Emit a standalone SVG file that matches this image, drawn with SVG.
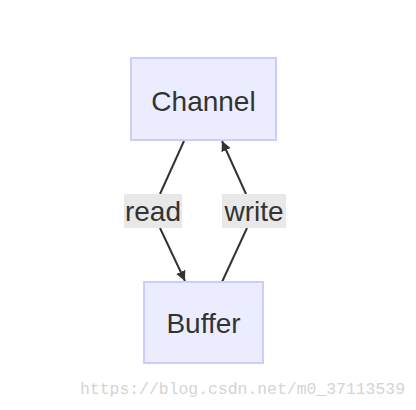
<svg xmlns="http://www.w3.org/2000/svg" width="416" height="410" viewBox="0 0 416 410">
<style>
.node rect{fill:#ECECFF;stroke:#CCCCFF;stroke-width:2}
.node text,.lbl text{font-family:"Liberation Sans",Arial,sans-serif;font-size:28px;fill:#333;text-anchor:middle}
.edge{fill:none;stroke:#333;stroke-width:2}
.lbl rect{fill:#E8E8E8}
.wm{font-family:"Liberation Mono","DejaVu Sans Mono",monospace;font-size:16px;fill:#D4D4D4}
</style>
<defs>
<marker id="arr" viewBox="0 0 10 10" refX="10" refY="5" markerWidth="10" markerHeight="10" markerUnits="userSpaceOnUse" orient="auto">
<path d="M0,0 L10,5 L0,10 z" fill="#333"/>
</marker>
</defs>
<rect width="416" height="410" fill="#fff"/>
<g id="connectors">
<path class="edge" d="M184,141 L160,194"/>
<path class="edge" d="M160,228 L185,281" marker-end="url(#arr)"/>
<path class="edge" d="M222,282 L247,228"/>
<path class="edge" d="M246,194 L222,141" marker-end="url(#arr)"/>
<g class="lbl" id="label-read"><rect x="124" y="194" width="58" height="34"/><text x="153" y="221">read</text></g>
<g class="lbl" id="label-write"><rect x="222" y="194" width="64" height="34"/><text x="254" y="221">write</text></g>
</g>
<g class="node" id="Channel"><rect x="131" y="58" width="145" height="82"/><text x="203.5" y="111">Channel</text></g>
<g class="node" id="Buffer"><rect x="144" y="282" width="119" height="81"/><text x="203.5" y="333">Buffer</text></g>
<text class="wm" x="80" y="394" textLength="325" lengthAdjust="spacingAndGlyphs">https://blog.csdn.net/m0_37113539</text>
</svg>
